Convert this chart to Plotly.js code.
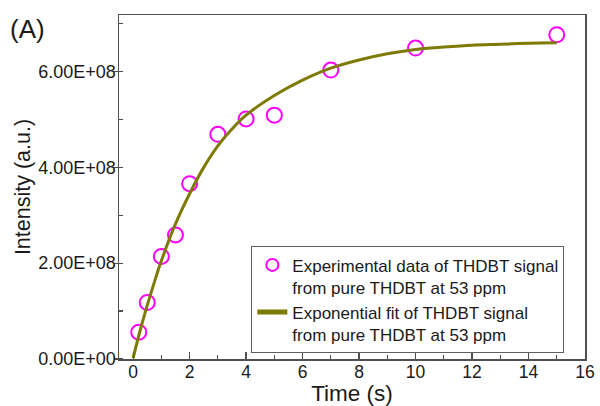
<!DOCTYPE html>
<html>
<head>
<meta charset="utf-8">
<script src="https://cdn.plot.ly/plotly-3.0.1.min.js"></script>
<style>
  html, body { margin: 0; padding: 0; background: #ffffff; }
  #chart { width: 600px; height: 406px; }
</style>
</head>
<body>
<div id="chart"></div>
<script>
const timeExp = [0.2, 0.5, 1, 1.5, 2, 3, 4, 5, 7, 10, 15];
const intensityExp = [0.56e8, 1.18e8, 2.14e8, 2.59e8, 3.66e8, 4.69e8, 5.01e8, 5.09e8, 6.03e8, 6.49e8, 6.77e8];

// Exponential fit curve
const timeFit = [0, 0.25, 0.5, 0.75, 1, 1.5, 2, 2.5, 3, 3.5, 4, 5, 6, 7, 8, 9, 10, 11, 12, 13, 14, 15];
const intensityFit = [0.02e8, 0.6e8, 1.12e8, 1.6e8, 2.05e8, 2.82e8, 3.45e8, 4.0e8, 4.45e8, 4.8e8, 5.09e8, 5.5e8, 5.82e8, 6.07e8, 6.24e8, 6.37e8, 6.46e8, 6.51e8, 6.55e8, 6.57e8, 6.59e8, 6.6e8];

// Axis tick labels
const yTickVals = [0, 2e8, 4e8, 6e8];
const yTickText = ["0.00E+00", "2.00E+08", "4.00E+08", "6.00E+08"];

const seriesNames = [
  "Experimental data of THDBT signal<br>from pure THDBT at 53 ppm",
  "Exponential fit of THDBT signal<br>from pure THDBT at 53 ppm"
];

const FONT = "Liberation Sans, Arial, sans-serif";
const AXIS_COLOR = "#505050";

const traces = [
  {
    x: timeExp, y: intensityExp, type: "scatter", mode: "markers",
    name: seriesNames[0],
    marker: { symbol: "circle-open", size: 15, color: "#ff00ff", line: { width: 2, color: "#ff00ff" } },
    cliponaxis: false
  },
  {
    x: timeFit, y: intensityFit, type: "scatter", mode: "lines",
    name: seriesNames[1],
    line: { color: "#7e7b05", width: 3, shape: "spline" }
  }
];

const layout = {
  width: 600, height: 406,
  margin: { l: 119, r: 15, t: 15, b: 47 },
  paper_bgcolor: "#ffffff", plot_bgcolor: "#ffffff",
  font: { family: FONT, size: 18, color: "#1a1a1a" },
  showlegend: true,
  xaxis: {
    range: [-0.5, 16], dtick: 2, tick0: 0,
    showgrid: false, zeroline: false,
    showline: true, mirror: true, linecolor: AXIS_COLOR, linewidth: 1.5,
    ticks: "inside", ticklen: 7, tickwidth: 1.2, tickcolor: AXIS_COLOR,
    minor: { dtick: 1, ticks: "inside", ticklen: 4, tickwidth: 1.2, tickcolor: AXIS_COLOR },
    tickfont: { size: 17.5, family: FONT },
    ticklabelstandoff: -4,
    title: { text: "Time (s)", font: { size: 22.5, family: FONT }, standoff: 3 }
  },
  yaxis: {
    range: [0, 7.18e8],
    tickmode: "array", tickvals: yTickVals, ticktext: yTickText,
    showgrid: false, zeroline: false,
    showline: true, mirror: true, linecolor: AXIS_COLOR, linewidth: 1.5,
    ticks: "outside", ticklen: 4, tickwidth: 1.2, tickcolor: AXIS_COLOR,
    minor: { tickmode: "linear", tick0: 0, dtick: 1e8, ticks: "inside", ticklen: 4, tickwidth: 1.2, tickcolor: AXIS_COLOR },
    tickfont: { size: 18, family: FONT },
    ticklabelstandoff: -6,
    title: { text: "Intensity (a.u.)", font: { size: 21.5, family: FONT }, standoff: 2 }
  },
  legend: {
    x: 0.284, y: 0.172, xanchor: "left", yanchor: "middle",
    bgcolor: "#ffffff", bordercolor: "#606060", borderwidth: 1,
    font: { size: 17, family: FONT, color: "#1a1a1a" },
    valign: "top", itemsizing: "constant", tracegroupgap: 0
  },
  annotations: [
    { text: "(A)", xref: "paper", yref: "paper", x: -0.196, y: 0.959,
      xanchor: "center", yanchor: "middle", showarrow: false,
      font: { size: 26, family: FONT, color: "#1a1a1a" } }
  ]
};

Plotly.newPlot("chart", traces, layout, { displayModeBar: false, staticPlot: true });
</script>
</body>
</html>
